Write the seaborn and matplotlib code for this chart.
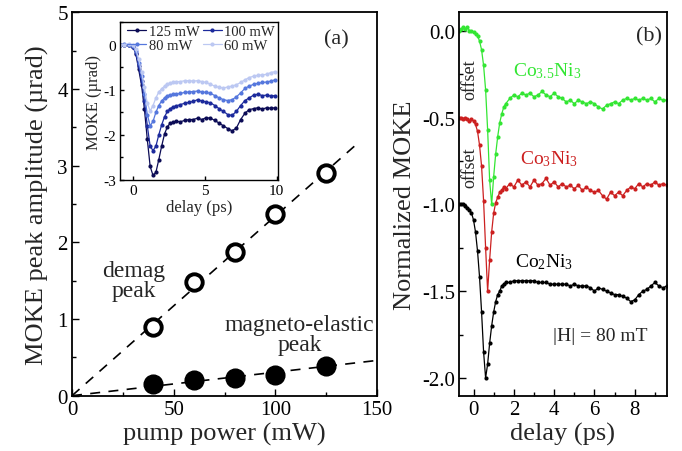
import matplotlib
matplotlib.use("Agg")
import matplotlib.pyplot as plt
import matplotlib.ticker as mtick
import seaborn as sns

# style
sns.set_theme(style="ticks")
plt.rcParams['font.family'] = ['Liberation Serif', 'DejaVu Serif']
plt.rcParams['mathtext.fontset'] = 'custom'
plt.rcParams['mathtext.rm'] = 'Liberation Serif'
plt.rcParams['mathtext.it'] = 'Liberation Serif:italic'
plt.rcParams['axes.unicode_minus'] = False

# ---- panel (a): peak amplitude vs pump power ----
power = [40, 60, 80, 100, 125]
demag_peak = [0.90, 1.48, 1.87, 2.37, 2.91]
elastic_peak = [0.15, 0.20, 0.23, 0.27, 0.39]
fit_demag_x = [0, 140]
fit_demag_y = [0.0, 3.28]
fit_elastic_x = [0, 150]
fit_elastic_y = [0.0, 0.46]

# ---- inset: MOKE traces for several pump powers ----
t_inset = [-0.9, -0.6, -0.3, 0.0, 0.2, 0.4, 0.6, 0.8, 1.0, 1.2, 1.4, 1.6, 1.8, 2.0,
           2.2, 2.4, 2.6, 2.8, 3.0, 3.3, 3.6, 3.9, 4.2, 4.5, 4.8, 5.1, 5.4, 5.7,
           6.0, 6.3, 6.6, 6.9, 7.2, 7.5, 7.8, 8.1, 8.4, 8.7, 9.0, 9.3, 9.6, 9.9]
moke_125 = [0.0, 0.0, -0.02, -0.05, -0.20, -0.55, -0.90, -1.43, -2.10, -2.70, -2.90,
            -2.83, -2.55, -2.25, -1.98, -1.82, -1.74, -1.72, -1.70, -1.71, -1.68,
            -1.66, -1.66, -1.63, -1.66, -1.62, -1.63, -1.68, -1.74, -1.80, -1.86,
            -1.91, -1.85, -1.66, -1.52, -1.44, -1.42, -1.40, -1.43, -1.40, -1.41, -1.40]
moke_100 = [0.0, 0.0, -0.02, -0.05, -0.18, -0.48, -0.80, -1.25, -1.80, -2.25, -2.35,
            -2.25, -2.00, -1.78, -1.60, -1.48, -1.42, -1.38, -1.36, -1.33, -1.30,
            -1.28, -1.26, -1.22, -1.25, -1.27, -1.29, -1.35, -1.42, -1.48, -1.55,
            -1.57, -1.48, -1.35, -1.24, -1.18, -1.12, -1.10, -1.13, -1.12, -1.14, -1.13]
moke_80 = [0.0, 0.01, -0.01, -0.04, -0.15, -0.40, -0.70, -1.10, -1.55, -1.80, -1.70,
           -1.50, -1.35, -1.25, -1.18, -1.13, -1.12, -1.10, -1.10, -1.08, -1.06,
           -1.05, -1.04, -1.03, -1.05, -1.06, -1.08, -1.13, -1.18, -1.22, -1.24,
           -1.22, -1.16, -1.07, -0.97, -0.92, -0.88, -0.86, -0.84, -0.83, -0.81, -0.78]
moke_60 = [0.0, 0.0, 0.02, -0.02, -0.10, -0.32, -0.60, -0.95, -1.30, -1.47, -1.35,
           -1.18, -1.05, -0.98, -0.92, -0.88, -0.85, -0.84, -0.82, -0.82, -0.80,
           -0.80, -0.81, -0.80, -0.82, -0.84, -0.88, -0.92, -0.95, -0.96, -0.94,
           -0.92, -0.89, -0.84, -0.78, -0.73, -0.70, -0.68, -0.67, -0.66, -0.62, -0.60]
inset_labels = ["125 mW", "100 mW", "80 mW", "60 mW"]
inset_colors = ["#0b0b55", "#1c2a9c", "#5577dd", "#bcc8f2"]

# ---- panel (b): normalized MOKE for three samples ----
t_b = [-0.7, -0.6, -0.5, -0.4, -0.3, -0.2, -0.1, 0.0, 0.1, 0.2, 0.3, 0.4, 0.5, 0.6,
       0.7, 0.8, 0.9, 1.0, 1.1, 1.2, 1.3, 1.4, 1.5, 1.6, 1.8, 2.0, 2.2, 2.4, 2.6,
       2.8, 3.0, 3.2, 3.4, 3.6, 3.8, 4.0, 4.2, 4.4, 4.6, 4.8, 5.0, 5.2, 5.4, 5.6,
       5.8, 6.0, 6.2, 6.4, 6.6, 6.8, 7.0, 7.2, 7.4, 7.6, 7.8, 8.0, 8.2, 8.4, 8.6,
       8.8, 9.0, 9.2, 9.4, 9.6]
co35ni3 = [0.00, 0.01, 0.02, 0.01, 0.02, 0.00, 0.00, -0.01, -0.02, -0.03, -0.06,
           -0.11, -0.20, -0.34, -0.57, -0.86, -1.00, -0.84, -0.71, -0.61, -0.53,
           -0.48, -0.44, -0.42, -0.39, -0.37, -0.38, -0.36, -0.37, -0.36, -0.38,
           -0.37, -0.35, -0.37, -0.38, -0.36, -0.38, -0.39, -0.41, -0.40, -0.42,
           -0.40, -0.41, -0.42, -0.41, -0.42, -0.44, -0.45, -0.43, -0.42, -0.41,
           -0.42, -0.40, -0.39, -0.40, -0.39, -0.40, -0.39, -0.40, -0.39, -0.41,
           -0.39, -0.40, -0.40]
co3ni3 = [-0.50, -0.50, -0.51, -0.50, -0.51, -0.52, -0.51, -0.52, -0.54, -0.58,
          -0.66, -0.78, -0.98, -1.25, -1.50, -1.32, -1.16, -1.05, -0.99, -0.96,
          -0.93, -0.92, -0.90, -0.91, -0.88, -0.90, -0.86, -0.89, -0.87, -0.90,
          -0.86, -0.89, -0.88, -0.85, -0.89, -0.87, -0.90, -0.88, -0.90, -0.89,
          -0.91, -0.89, -0.92, -0.90, -0.92, -0.93, -0.92, -0.95, -0.97, -0.93,
          -0.95, -0.93, -0.95, -0.92, -0.90, -0.91, -0.88, -0.90, -0.88, -0.89,
          -0.87, -0.89, -0.88, -0.89]
co2ni3 = [-1.00, -1.00, -1.00, -1.01, -1.02, -1.03, -1.05, -1.09, -1.16, -1.27,
          -1.42, -1.62, -1.85, -2.00, -1.92, -1.80, -1.70, -1.62, -1.56, -1.52,
          -1.50, -1.47, -1.46, -1.45, -1.45, -1.44, -1.44, -1.44, -1.44, -1.44,
          -1.44, -1.45, -1.45, -1.45, -1.46, -1.46, -1.46, -1.46, -1.46, -1.47,
          -1.46, -1.47, -1.47, -1.47, -1.48, -1.50, -1.48, -1.49, -1.50, -1.51,
          -1.52, -1.52, -1.53, -1.54, -1.56, -1.55, -1.52, -1.50, -1.49, -1.47,
          -1.45, -1.47, -1.48, -1.47]
sample_colors = ["#33e633", "#cc2020", "black"]

fig = plt.figure(figsize=(6.82, 4.52), dpi=100)
ax_a = fig.add_axes([72/682, 1 - 396.7/452, 305/682, 383.4/452])
ax_in = fig.add_axes([120/682, 1 - 181/452, 158/682, 158/452])
ax_b = fig.add_axes([459/682, 1 - 396.7/452, 208/682, 383.4/452])

# panel (a)
sns.lineplot(x=fit_demag_x, y=fit_demag_y, ax=ax_a, color="black", lw=1.2,
             linestyle=(0, (6, 5)))
sns.lineplot(x=fit_elastic_x, y=fit_elastic_y, ax=ax_a, color="black", lw=1.2,
             linestyle=(0, (6, 5)))
sns.scatterplot(x=power, y=demag_peak, ax=ax_a, color="white", edgecolor="black",
                linewidth=2.8, s=140, zorder=5)
sns.scatterplot(x=power, y=elastic_peak, ax=ax_a, color="black", edgecolor="black",
                s=180, zorder=5)
ax_a.set_xlim(0, 150)
ax_a.set_ylim(0, 5)
ax_a.xaxis.set_major_locator(mtick.MultipleLocator(50))
ax_a.xaxis.set_minor_locator(mtick.MultipleLocator(25))
ax_a.yaxis.set_major_locator(mtick.MultipleLocator(1))
ax_a.yaxis.set_minor_locator(mtick.MultipleLocator(0.5))
ax_a.set_xlabel("pump power (mW)", fontsize=19, labelpad=2)
ax_a.set_ylabel("MOKE peak amplitude (\u00b5rad)", fontsize=19, labelpad=6)
ax_a.text(130, 4.65, "(a)", fontsize=16, ha="center", va="center")
ax_a.text(30.5, 1.5, "demag\npeak", fontsize=17, ha="center", va="center",
          linespacing=0.95)
ax_a.text(112, 0.8, "magneto-elastic\npeak", fontsize=17, ha="center", va="center",
          linespacing=0.95)

# inset
for vals, lab, col in zip([moke_125, moke_100, moke_80, moke_60], inset_labels,
                          inset_colors):
    sns.lineplot(x=t_inset, y=vals, ax=ax_in, color=col, lw=0.9, marker="o",
                 markersize=3, markeredgewidth=0, label=lab)
ax_in.set_xlim(-0.9, 10.1)
ax_in.set_ylim(-3, 0.5)
ax_in.xaxis.set_major_locator(mtick.MultipleLocator(5))
ax_in.yaxis.set_major_locator(mtick.MultipleLocator(1))
ax_in.yaxis.set_minor_locator(mtick.MultipleLocator(0.5))
ax_in.set_xlabel("delay (ps)", fontsize=12, labelpad=1)
ax_in.set_ylabel("MOKE (\u00b5rad)", fontsize=12, labelpad=1)
# row-wise order: 125 | 100 on top, 80 | 60 below
handles, labels = ax_in.get_legend_handles_labels()
order = [0, 2, 1, 3]
ax_in.legend([handles[i] for i in order], [labels[i] for i in order], ncol=2,
             frameon=False, fontsize=10.5, loc="upper right",
             handlelength=1.3, columnspacing=0.2, handletextpad=0.2,
             labelspacing=0.05, borderaxespad=0.1, borderpad=0.1)

# panel (b)
for vals, col in zip([co35ni3, co3ni3, co2ni3], sample_colors):
    sns.lineplot(x=t_b, y=vals, ax=ax_b, color=col, lw=0.9, marker="o",
                 markersize=3, markeredgewidth=0)
ax_b.set_xlim(-0.72, 9.6)
ax_b.set_ylim(-2.102, 0.106)
ax_b.xaxis.set_major_locator(mtick.MultipleLocator(2))
ax_b.xaxis.set_minor_locator(mtick.MultipleLocator(1))
ax_b.yaxis.set_major_locator(mtick.MultipleLocator(0.5))
ax_b.yaxis.set_minor_locator(mtick.MultipleLocator(0.25))
ax_b.yaxis.set_major_formatter(mtick.FormatStrFormatter("%.1f"))
ax_b.set_xlabel("delay (ps)", fontsize=19, labelpad=2)
ax_b.set_ylabel("Normalized MOKE", fontsize=19, labelpad=4)
ax_b.text(8.69, -0.027, "(b)", fontsize=16, ha="center", va="center")
ax_b.text(3.65, -0.227, r"Co$_{3.5}$Ni$_3$", color=sample_colors[0], fontsize=14,
          ha="center", va="center")
ax_b.text(3.73, -0.736, r"Co$_3$Ni$_3$", color=sample_colors[1], fontsize=14,
          ha="center", va="center")
ax_b.text(3.48, -1.33, r"Co$_2$Ni$_3$", color="black", fontsize=14,
          ha="center", va="center")
ax_b.text(6.3, -1.754, "|H| = 80 mT", fontsize=14, ha="center", va="center")
ax_b.text(-0.16, -0.275, "offset", fontsize=13, rotation=90, ha="center", va="center")
ax_b.text(-0.16, -0.784, "offset", fontsize=13, rotation=90, ha="center", va="center")

for ax, big in [(ax_a, True), (ax_b, True), (ax_in, False)]:
    for sp in ax.spines.values():
        sp.set_linewidth(1.3 if big else 1.0)
        sp.set_color("black")
    ax.tick_params(which="major", direction="in", length=5 if big else 3,
                   width=1.0, labelsize=15 if big else 11, color="black",
                   labelcolor="black", pad=3)
    ax.tick_params(which="minor", direction="in", length=3 if big else 2,
                   width=1.0, color="black")

fig.savefig("out.png", dpi=100)
